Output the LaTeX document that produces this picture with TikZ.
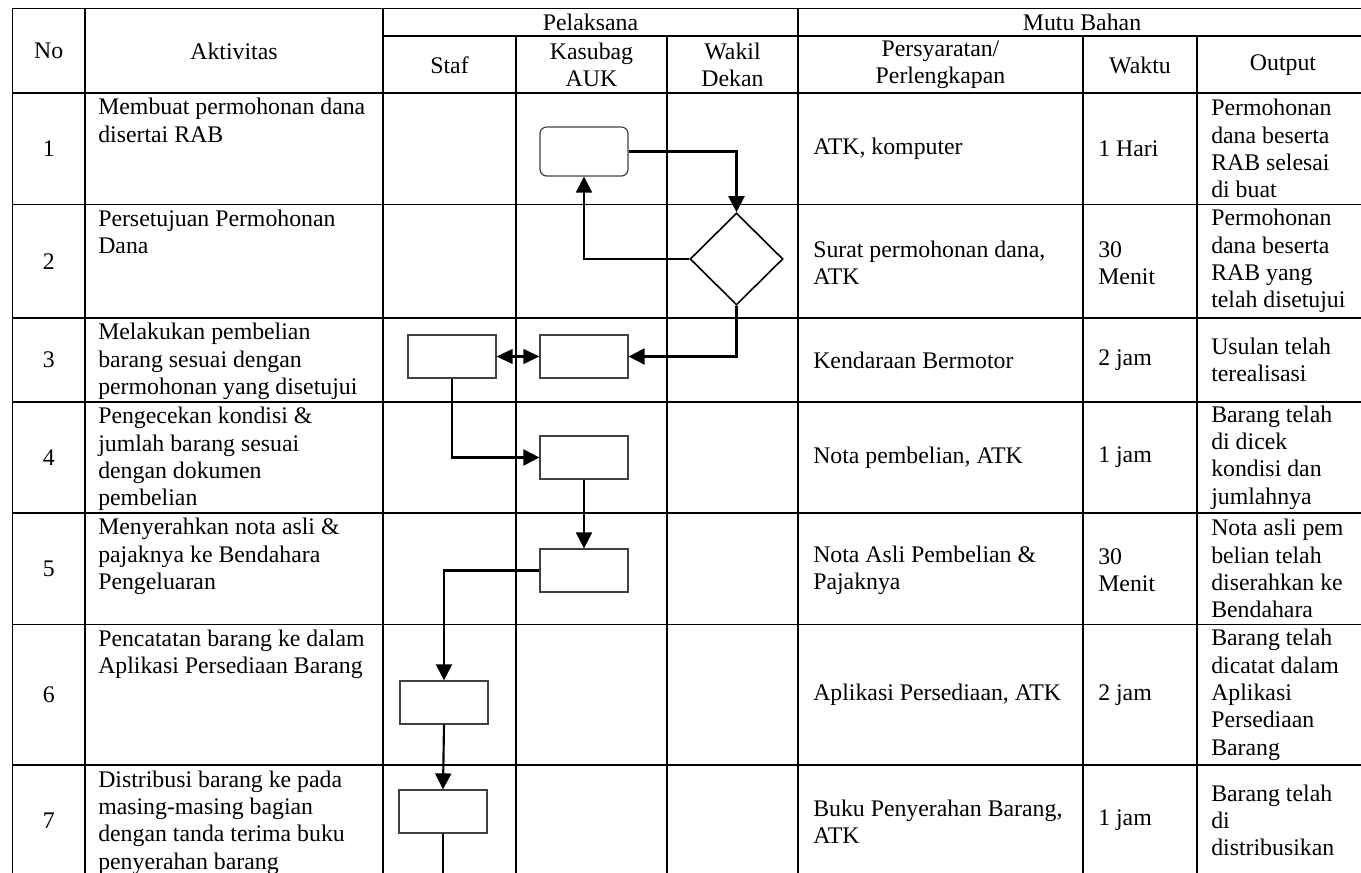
\documentclass[tikz,border=0pt]{standalone}
\usepackage{fontspec}
\setmainfont{Liberation Serif}
\usetikzlibrary{arrows.meta,shapes.geometric}
\newcommand{\tabfs}{\fontsize{17.85pt}{20.5pt}\selectfont}
\begin{document}
\begin{tikzpicture}[x=0.75pt,y=-0.75pt,
  gridline/.style={line width=1.4pt, line cap=rect},
  conn/.style={line width=1.6pt, -{Triangle[length=12pt,width=12pt]}},
  dblconn/.style={line width=1.6pt, {Triangle[length=12pt,width=11pt]}-{Triangle[length=12pt,width=11pt]}},
  plainconn/.style={line width=1.6pt},
  procbox/.style={draw=black!75, line width=0.9pt, minimum width=66pt, minimum height=32.25pt, inner sep=0pt},
  termbox/.style={draw=black!75, line width=0.9pt, rounded corners=5pt, minimum width=66pt, minimum height=36.75pt, inner sep=0pt},
  decbox/.style={draw=black, line width=1.2pt, diamond, minimum width=69.75pt, minimum height=69pt, inner sep=0pt},
  hdr/.style={align=center, inner sep=0pt, font=\tabfs},
  akt/.style={anchor=base west, inner sep=0pt, font=\tabfs},
  cell/.style={anchor=west, align=left, inner sep=0pt, font=\tabfs},
  num/.style={inner sep=0pt, font=\tabfs}
]
\useasboundingbox (0,0) rectangle (1361,873);
% ---- grid ----
\draw[gridline] (12.5,8.5) -- (1370,8.5);
\draw[gridline] (383,36) -- (1370,36);
\foreach \yy in {93,204.5,318,402,513,624.5,765}
  \draw[gridline] (12.5,\yy) -- (1370,\yy);
\foreach \xx in {12.5,85,383,798}
  \draw[gridline] (\xx,8.5) -- (\xx,885);
\foreach \xx in {516,667,1083,1197}
  \draw[gridline] (\xx,36) -- (\xx,885);
% ---- headers ----
\node[hdr] (hNo) at (48.75,51) {No};
\node[hdr] (hAkt) at (234,51) {Aktivitas};
\node[hdr] (hPel) at (590.5,22) {Pelaksana};
\node[hdr] (hMutu) at (1082,22) {Mutu Bahan};
\node[hdr] (hStaf) at (449.5,65) {Staf};
\node[hdr] (hKas) at (591.5,65) {Kasubag\\AUK};
\node[hdr] (hWak) at (732.5,65) {Wakil\\Dekan};
\node[hdr] (hPers) at (940.5,65) {Persyaratan/\\Perlengkapan};
\node[hdr] (hWaktu) at (1140,65) {Waktu};
\node[hdr] (hOut) at (1283,65) {Output};
% ---- numbers ----
\node[num] (n1) at (48.75,148.75) {1};
\node[num] (n2) at (48.75,261.25) {2};
\node[num] (n3) at (48.75,360) {3};
\node[num] (n4) at (48.75,457.5) {4};
\node[num] (n5) at (48.75,568.75) {5};
\node[num] (n6) at (48.75,694.75) {6};
\node[num] (n7) at (48.75,820.5) {7};
% ---- aktivitas ----
\node[akt] (a1) at (98,115) {\parbox[t]{215pt}{Membuat permohonan dana\\disertai RAB}};
\node[akt] (a2) at (98,226.5) {\parbox[t]{215pt}{Persetujuan Permohonan\\Dana}};
\node[akt] (a3) at (98,340) {\parbox[t]{215pt}{Melakukan pembelian\\barang sesuai dengan\\permohonan yang disetujui}};
\node[akt] (a4) at (98,424) {\parbox[t]{215pt}{Pengecekan kondisi \&\\jumlah barang sesuai\\dengan dokumen\\pembelian}};
\node[akt] (a5) at (98,535) {\parbox[t]{215pt}{Menyerahkan nota asli \&\\pajaknya ke Bendahara\\Pengeluaran}};
\node[akt] (a6) at (98,646.5) {\parbox[t]{215pt}{Pencatatan barang ke dalam\\Aplikasi Persediaan Barang}};
\node[akt] (a7) at (98,787) {\parbox[t]{215pt}{Distribusi barang ke pada\\masing-masing bagian\\dengan tanda terima buku\\penyerahan barang}};
% ---- persyaratan ----
\node[cell] (p1) at (813,148.75) {ATK, komputer};
\node[cell] (p2) at (813,263) {Surat permohonan dana,\\ATK};
\node[cell] (p3) at (813,360) {Kendaraan Bermotor};
\node[cell] (p4) at (813,457.5) {Nota pembelian, ATK};
\node[cell] (p5) at (813,570) {Nota Asli Pembelian \&\\Pajaknya};
\node[cell] (p6) at (813,694.75) {Aplikasi Persediaan, ATK};
\node[cell] (p7) at (813,822) {Buku Penyerahan Barang,\\ATK};
% ---- waktu ----
\node[cell] (w1) at (1098,148.75) {1 Hari};
\node[cell] (w2) at (1098,263) {30\\Menit};
\node[cell] (w3) at (1098,360) {2 jam};
\node[cell] (w4) at (1098,457.5) {1 jam};
\node[cell] (w5) at (1098,570) {30\\Menit};
\node[cell] (w6) at (1098,694.75) {2 jam};
\node[cell] (w7) at (1098,820.5) {1 jam};
% ---- output ----
\node[cell] (o1) at (1211,148.75) {Permohonan\\dana beserta\\RAB selesai\\di buat};
\node[cell] (o2) at (1211,261.25) {Permohonan\\dana beserta\\RAB yang\\telah disetujui};
\node[cell] (o3) at (1211,360) {Usulan telah\\terealisasi};
\node[cell] (o4) at (1211,457.5) {Barang telah\\di dicek\\kondisi dan\\jumlahnya};
\node[cell] (o5) at (1211,568.75) {Nota asli pem\\belian telah\\diserahkan ke\\Bendahara};
\node[cell] (o6) at (1211,694.75) {Barang telah\\dicatat dalam\\Aplikasi\\Persediaan\\Barang};
\node[cell] (o7) at (1211,820.5) {Barang telah\\di\\distribusikan};
% ---- flowchart shapes ----
\node[termbox] (t1) at (584,151.5) {};
\node[decbox] (d2) at (736.5,259) {};
\node[procbox] (s3) at (452,356.5) {};
\node[procbox] (k3) at (584,356.5) {};
\node[procbox] (k4) at (584,457.5) {};
\node[procbox] (k5) at (584,570.5) {};
\node[procbox] (s6) at (444,702.5) {};
\node[procbox] (s7) at (443,811.5) {};
\coordinate (endpt) at (443,880);
% ---- connectors ----
\draw[conn] (t1.east) -| (d2.north);
\draw[conn] (d2.west) -| (t1.south);
\draw[conn] (d2.south) |- (k3.east);
\draw[dblconn] (s3.east) -- (k3.west);
\draw[conn] (s3.south) |- (k4.west);
\draw[conn] (k4.south) -- (k5.north);
\draw[conn] (k5.west) -| (s6.north);
\draw[conn] (s6.south) -- (s7.north);
\draw[plainconn] (s7.south) -- (endpt);
\end{tikzpicture}
\end{document}
